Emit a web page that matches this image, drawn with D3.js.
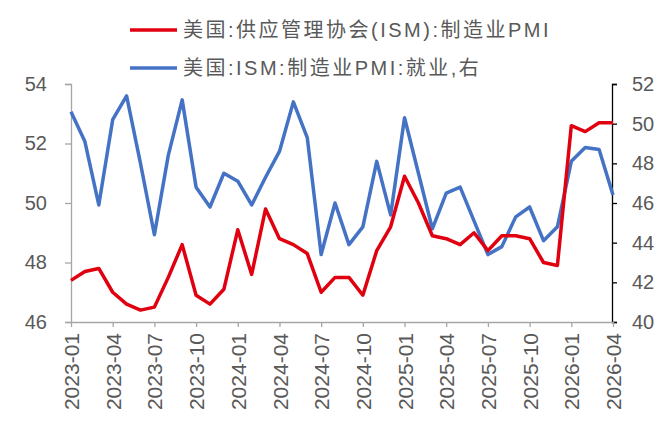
<!DOCTYPE html>
<html><head><meta charset="utf-8">
<script src="https://cdn.jsdelivr.net/npm/d3@7"></script>
<style>
body{margin:0;background:#fff;}
svg{display:block;}
text{font-family:"Liberation Sans","Noto Sans CJK SC",Arial,sans-serif;fill:#595959;}
</style></head>
<body>
<svg id="c" width="657" height="444"></svg>
<script>
const months = ["2023-01","2023-02","2023-03","2023-04","2023-05","2023-06","2023-07","2023-08","2023-09","2023-10","2023-11","2023-12",
"2024-01","2024-02","2024-03","2024-04","2024-05","2024-06","2024-07","2024-08","2024-09","2024-10","2024-11","2024-12",
"2025-01","2025-02","2025-03","2025-04","2025-05","2025-06","2025-07","2025-08","2025-09","2025-10","2025-11","2025-12",
"2026-01","2026-02","2026-03","2026-04"];
const pmi = [47.4,47.7,47.8,47.0,46.6,46.4,46.5,47.5,48.6,46.9,46.6,47.1,
49.1,47.6,49.8,48.8,48.6,48.3,47.0,47.5,47.5,46.9,48.4,49.2,
50.9,50.0,48.9,48.8,48.6,49.0,48.4,48.9,48.9,48.8,48.0,47.9,
52.6,52.4,52.7,52.7];
const employment = [50.6,49.1,45.9,50.2,51.4,48.0,44.4,48.4,51.2,46.8,45.8,47.5,
47.1,45.9,47.3,48.6,51.1,49.3,43.4,46.0,43.9,44.8,48.1,45.4,
50.3,47.5,44.7,46.5,46.8,45.1,43.4,43.8,45.3,45.8,44.1,44.8,
48.1,48.8,48.7,46.4];
const leftTicks = [46,48,50,52,54];
const rightTicks = [40,42,44,46,48,50,52];
const xTickLabels = months.filter((m,i)=>i%3===0);
const seriesNames = ["美国:供应管理协会(ISM):制造业PMI","美国:ISM:制造业PMI:就业,右"];
const colors = ["#E0000F","#4472C4"];

const svg = d3.select("#c");
const x = d3.scalePoint().domain(months).range([71,613]);
const yL = d3.scaleLinear().domain([46,54]).range([322,84]);
const yR = d3.scaleLinear().domain([40,52]).range([322,84]);

// axes
const gL = svg.append("g").attr("transform","translate(71,0)")
  .call(d3.axisLeft(yL).tickValues(leftTicks).tickSize(6).tickPadding(18).tickFormat(d3.format("d")));
gL.selectAll("path,line").attr("stroke","#A6A6A6").attr("stroke-width",1.3);
gL.selectAll("text").style("font-size","20px").attr("fill","#595959");

const gR = svg.append("g").attr("transform","translate(612,0)")
  .call(d3.axisRight(yR).tickValues(rightTicks).tickSize(5).tickPadding(15).tickFormat(d3.format("d")));
gR.selectAll("path,line").attr("stroke","#000").attr("stroke-width",1.3);
gR.selectAll("text").style("font-size","20px").attr("fill","#595959");

const gB = svg.append("g").attr("transform","translate(0,322)")
  .call(d3.axisBottom(x).tickValues(xTickLabels).tickSize(5).tickSizeOuter(0).tickPadding(6));
gB.selectAll("path,line").attr("stroke","#A6A6A6").attr("stroke-width",1.3);
gB.selectAll("text").style("font-size","21px").attr("fill","#595959")
  .attr("text-anchor","end").attr("transform","rotate(-90)")
  .attr("x",-11).attr("y",0).attr("dy","0.36em");
svg.selectAll(".domain").attr("fill","none");

// lines
const lineL = d3.line().x((d,i)=>x(months[i])).y(d=>yL(d));
const lineR = d3.line().x((d,i)=>x(months[i])).y(d=>yR(d));
svg.append("path").datum(employment).attr("d",lineR).attr("fill","none")
  .attr("stroke",colors[1]).attr("stroke-width",3.5).attr("stroke-linejoin","round");
svg.append("path").datum(pmi).attr("d",lineL).attr("fill","none")
  .attr("stroke",colors[0]).attr("stroke-width",3.5).attr("stroke-linejoin","round");

// legend
const leg = svg.append("g");
seriesNames.forEach((n,i)=>{
  const yy = 30 + i*38;
  leg.append("line").attr("x1",130).attr("x2",177).attr("y1",yy).attr("y2",yy)
    .attr("stroke",colors[i]).attr("stroke-width",3.5);
  leg.append("text").attr("x",183).attr("y",yy).attr("dy","0.35em")
    .style("font-size","20px").style("letter-spacing","2.5px").text(n);
});
</script>
</body></html>
